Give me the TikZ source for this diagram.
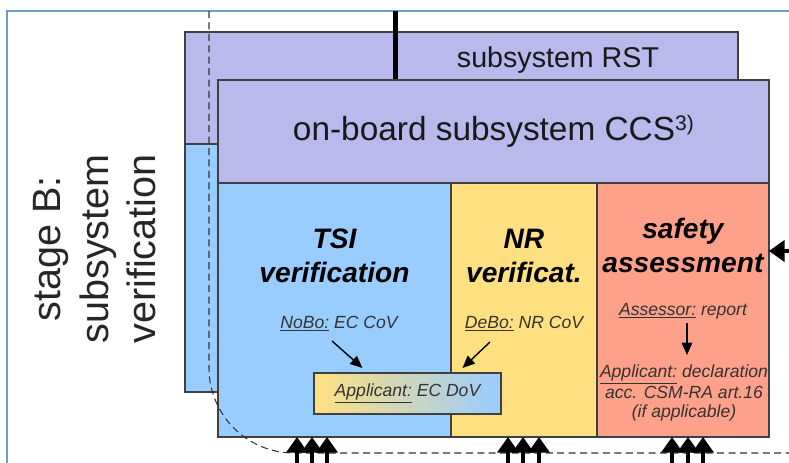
\documentclass[tikz,border=0pt]{standalone}
\usepackage{fontspec}
\setmainfont{Liberation Sans}
\usetikzlibrary{arrows.meta, positioning, calc}

\definecolor{lavender}{RGB}{185,185,236}
\definecolor{sky}{RGB}{153,204,255}
\definecolor{sand}{RGB}{255,224,128}
\definecolor{salmon}{RGB}{255,160,138}
\definecolor{frameblue}{RGB}{112,156,206}

\begin{document}
\begin{tikzpicture}[
    x=0.02cm, y=-0.02cm,
    box/.style = {rectangle, draw=black!75, line width=0.7pt, inner sep=0pt, outer sep=0pt},
    column/.style = {box, minimum height=5.08cm},
    title/.style = {font=\fontsize{16}{19}\selectfont\bfseries\itshape, align=center, inner sep=0pt, anchor=north},
    note/.style = {font=\fontsize{10}{11}\selectfont\itshape, text=black!80, align=center, inner sep=0pt},
    stage/.style = {font=\fontsize{22.5}{27}\selectfont, text=black!85, align=center, rotate=90},
    arrow/.style = {-{Triangle[length=7pt, width=6pt]}, line width=0.8pt},
    feed/.style = {-{Triangle[length=9pt 0 0, width=12pt 0 0]}, line width=2.7pt},
    frame/.style = {draw=frameblue, line width=0.9pt},
    boundary/.style = {draw=black!80, line width=0.6pt, dash pattern=on 4pt off 2.5pt, rounded corners=1.7cm}
]
\useasboundingbox (0,0) rectangle (789,463);

% outer frame
\coordinate (corner) at (7,11);
\draw[frame] (corner |- 0,480) -- (corner) -- (800,11);

% stage label
\node[stage] (stage) at (95,249) {stage B:\\subsystem\\verification};

% subsystem RST (behind)
\node[box, anchor=north west, fill=lavender, minimum width=11.06cm, minimum height=2.24cm] (rsthead) at (185,32) {};
\node[box, anchor=north west, fill=sky, minimum width=11.06cm, minimum height=4.96cm] (rstbody) at (rsthead.south west) {};
\node[font=\fontsize{16.3}{19}\selectfont, text=black!90] (rstlabel) at (558,60) {subsystem RST};

% interface line
\coordinate (ccsnw) at (218,80);
\draw[line width=3pt] (corner -| 395.5,0) -- (ccsnw -| 395.5,0);

% on-board subsystem CCS
\node[box, anchor=north west, fill=lavender, minimum width=11.02cm, minimum height=2.06cm,
      font=\fontsize{19}{22}\selectfont, text=black!90] (ccs) at (ccsnw) {on-board subsystem CCS{\fontsize{12}{12}\selectfont\raisebox{5.5pt}{3)}}};
\node[column, fill=sky, minimum width=4.66cm, below right=0pt and 0pt of ccs.south west] (tsi) {};
\node[column, fill=sand, minimum width=2.92cm, right=0pt of tsi] (nr) {};
\node[column, fill=salmon, minimum width=3.44cm, right=0pt of nr] (safety) {};

% column titles
\node[title] (tsititle) at (tsi.north |- 0,229) {TSI\\verification};
\node[title] (nrtitle) at (nr.north |- 0,229) {NR\\verificat.};
\node[title] (safetytitle) at (safety.north |- 0,218) {safety\\assessment};

% documents
\node[note, anchor=base] (nobo) at (339,328) {\underline{NoBo:} EC CoV};
\node[note, anchor=base] (debo) at (524,328) {\underline{DeBo:} NR CoV};
\node[note, anchor=base] (assessor) at (683,315) {\underline{Assessor:} report};
\node[note, anchor=north] (declaration) at (684,364) {\underline{Applicant:} declaration\\acc. CSM-RA art.16\\(if applicable)};
\node[box, left color=sand, right color=sky, minimum width=3.74cm, minimum height=0.82cm,
      font=\fontsize{10}{11}\selectfont\itshape, text=black!80] (dov) at (407.5,393.5) {\underline{Applicant:} EC DoV};

\draw[arrow] ($(nobo.base)+(-7,13)$) -- ($(dov.north)+(-45,-5)$);
\draw[arrow] ($(debo.base)+(-34,14)$) -- ($(dov.north)+(55,-5)$);
\draw[arrow] ($(assessor.base)+(4,8)$) -- ($(declaration.north)+(3,-9)$);

% stage boundary
\draw[boundary] (corner -| 209,0) -- (209,453) -- (800,453);

% inputs
\foreach \x in {297,312,327}
    \draw[feed] (\x,480) -- (\x,0 |- tsi.south);
\foreach \x in {508,523,539}
    \draw[feed] (\x,480) -- (\x,0 |- nr.south);
\foreach \x in {672,688,703}
    \draw[feed] (\x,480) -- (\x,0 |- safety.south);
\draw[feed] (810,251) -- (safety.east |- 0,251);

\end{tikzpicture}
\end{document}
